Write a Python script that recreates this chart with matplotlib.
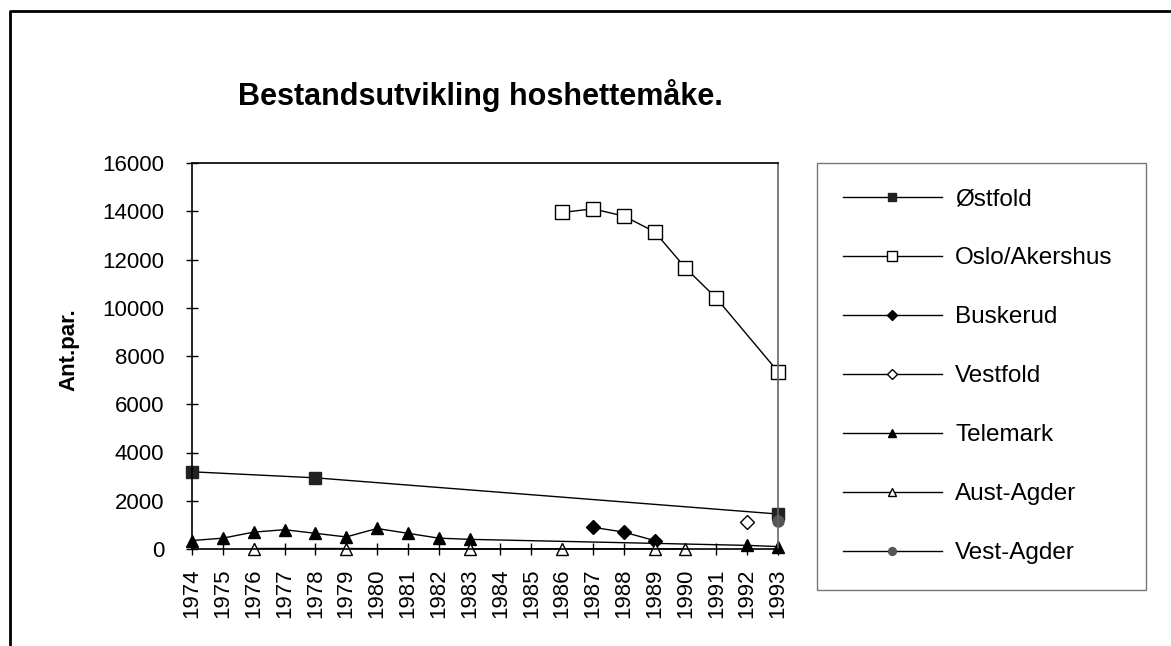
# Bestandsutvikling hoshettemåke - line chart
import numpy as np
import matplotlib
matplotlib.use("Agg")
import matplotlib.pyplot as plt
from matplotlib.lines import Line2D

plt.rcParams['font.family'] = ['Liberation Sans', 'DejaVu Sans']

years = list(range(1974, 1994))

# (year, value) per county
ostfold_years = [1974, 1978, 1993]
ostfold_vals = [3200, 2950, 1450]

oslo_years = [1986, 1987, 1988, 1989, 1990, 1991, 1993]
oslo_vals = [13950, 14100, 13800, 13150, 11650, 10400, 7350]

buskerud_years = [1987, 1988, 1989]
buskerud_vals = [900, 700, 350]

vestfold_years = [1992]
vestfold_vals = [1100]

telemark_years = [1974, 1975, 1976, 1977, 1978, 1979, 1980, 1981, 1982, 1983, 1992, 1993]
telemark_vals = [350, 450, 700, 800, 650, 500, 850, 650, 450, 400, 150, 100]

austagder_years = [1976, 1979, 1983, 1986, 1989, 1990]
austagder_vals = [20, 20, 0, 10, 10, 0]

vestagder_years = [1993]
vestagder_vals = [1150]

W, H = 1171, 646
fig = plt.figure(figsize=(W / 100, H / 100), dpi=100)
ax = fig.add_axes([192 / W, 1 - 549 / H, (778 - 192) / W, (549 - 163) / H])

def pos(yrs):
    return [years.index(y) for y in yrs]

lw = 1.0
ax.plot(pos(ostfold_years), ostfold_vals, color='black', lw=lw, marker='s',
        ms=8, mfc='#222222', mec='#222222', label='Østfold', clip_on=False)
ax.plot(pos(oslo_years), oslo_vals, color='black', lw=lw, marker='s',
        ms=10, mfc='white', mec='black', label='Oslo/Akershus', clip_on=False)
ax.plot(pos(buskerud_years), buskerud_vals, color='black', lw=lw, marker='D',
        ms=7, mfc='black', mec='black', label='Buskerud', clip_on=False)
ax.plot(pos(vestfold_years), vestfold_vals, color='black', lw=lw, marker='D',
        ms=7, mfc='white', mec='black', label='Vestfold', clip_on=False)
ax.plot(pos(telemark_years), telemark_vals, color='black', lw=lw, marker='^',
        ms=8, mfc='black', mec='black', label='Telemark', clip_on=False)
ax.plot(pos(austagder_years), austagder_vals, color='black', lw=lw, marker='^',
        ms=9, mfc='white', mec='black', label='Aust-Agder', clip_on=False)
ax.plot(pos(vestagder_years), vestagder_vals, color='black', lw=lw, marker='o',
        ms=8, mfc='#555555', mec='#555555', label='Vest-Agder', clip_on=False)

ax.set_xlim(0, len(years) - 1)
ax.set_ylim(0, 16000)
ax.set_xticks(range(len(years)))
ax.set_xticklabels([str(y) for y in years], rotation=90, fontsize=16)
ax.set_yticks(np.arange(0, 16001, 2000))
ax.set_yticklabels([str(v) for v in range(0, 16001, 2000)], fontsize=16)
ax.tick_params(direction='inout', length=8, width=1, colors='black')
ax.tick_params(axis='x', pad=10)
ax.tick_params(axis='y', pad=16)
for s in ax.spines.values():
    s.set_linewidth(1.2)
ax.spines['right'].set_color('#666666')

fig.text(69 / W, 1 - 350 / H, 'Ant.par.', rotation=90, ha='center', va='center',
         fontsize=16, fontweight='bold')

fig.text(480 / W, 1 - 95 / H, 'Bestandsutvikling hoshettemåke.', ha='center',
         va='center', fontsize=22, fontweight='bold')

leg = fig.legend(loc='upper left', bbox_to_anchor=(817 / W, 1 - 163 / H, (1146 - 817) / W, 0),
                 mode='expand', fontsize=17.5, frameon=True, fancybox=False,
                 handlelength=4.1, handletextpad=0.53, labelspacing=1.52,
                 borderpad=1.05, borderaxespad=0, markerscale=0.7)
leg.get_frame().set_edgecolor('#555555')
leg.get_frame().set_linewidth(1.0)

# outer chart frame (runs off the right/bottom of the scan)
fig.add_artist(Line2D([10 / W, 10 / W, 1.0], [0.0, 1 - 11 / H, 1 - 11 / H],
                      transform=fig.transFigure, color='black', lw=2))

fig.savefig('out.png', dpi=100)
